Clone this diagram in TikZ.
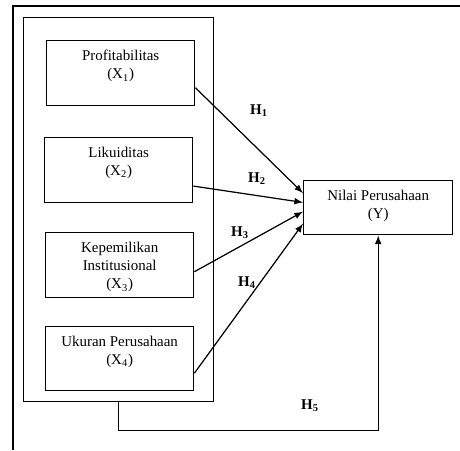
\documentclass[tikz,border=0pt]{standalone}
\usepackage{fontspec}
\setmainfont{Liberation Serif}
\usetikzlibrary{arrows,positioning}

\begin{document}
\begin{tikzpicture}[x=0.02cm, y=-0.02cm, node distance=0mm, line width=0.8pt]
\tikzstyle{blank}=[text centered, align=center, inner sep=0pt, font=\fontsize{8.5}{10.3}\selectfont]
\tikzstyle{block}=[draw, anchor=north west, inner sep=0pt]
\tikzstyle{Xblock}=[block, minimum width=2.96cm, minimum height=1.3cm]
\tikzstyle{Yblock}=[block, minimum width=2.98cm, minimum height=1.08cm]
\tikzstyle{Hlabel}=[blank, font=\fontsize{8.5}{10}\selectfont\bfseries]
\tikzstyle{link}=[-latex, line width=0.7pt]

\useasboundingbox (0,0) rectangle (460,450);
\draw (13,450) -- (13,6) -- (460,6);

\node[block, minimum width=3.8cm, minimum height=7.68cm] (frame) at (23,17) {};

\node[Xblock] (x1) at (46,40) {};
\node[blank, below=5.5pt of x1.north] {Profitabilitas\\(X\textsubscript{1})};
\node[Xblock] (x2) at (44,137) {};
\node[blank, below=5.5pt of x2.north] {Likuiditas\\(X\textsubscript{2})};
\node[Xblock] (x3) at (45,232) {};
\node[blank, below=5.5pt of x3.north] {Kepemilikan\\Institusional\\(X\textsubscript{3})};
\node[Xblock, minimum height=1.28cm] (x4) at (45,326) {};
\node[blank, below=5.5pt of x4.north] {Ukuran Perusahaan\\(X\textsubscript{4})};

\node[Yblock] (y) at (303,180) {};
\node[blank, below=5.5pt of y.north] {Nilai Perusahaan\\(Y)};

\draw[link] (x1.-11) -- (y.169.4);
\draw[link] (x2.-12.6) -- (y.176.9);
\draw[link] (x3.-5.8) -- (y.183.1);
\draw[link] (x4.-11.5) -- (y.192.9);
\draw[link] (frame.south) -- ++(0,28) -| (y.south);

\node[Hlabel] (h1) at (259,111) {H\textsubscript{1}};
\node[Hlabel] (h2) at (257,179) {H\textsubscript{2}};
\node[Hlabel] (h3) at (240,233) {H\textsubscript{3}};
\node[Hlabel] (h4) at (247,283) {H\textsubscript{4}};
\node[Hlabel] (h5) at (310,406) {H\textsubscript{5}};
\end{tikzpicture}
\end{document}
